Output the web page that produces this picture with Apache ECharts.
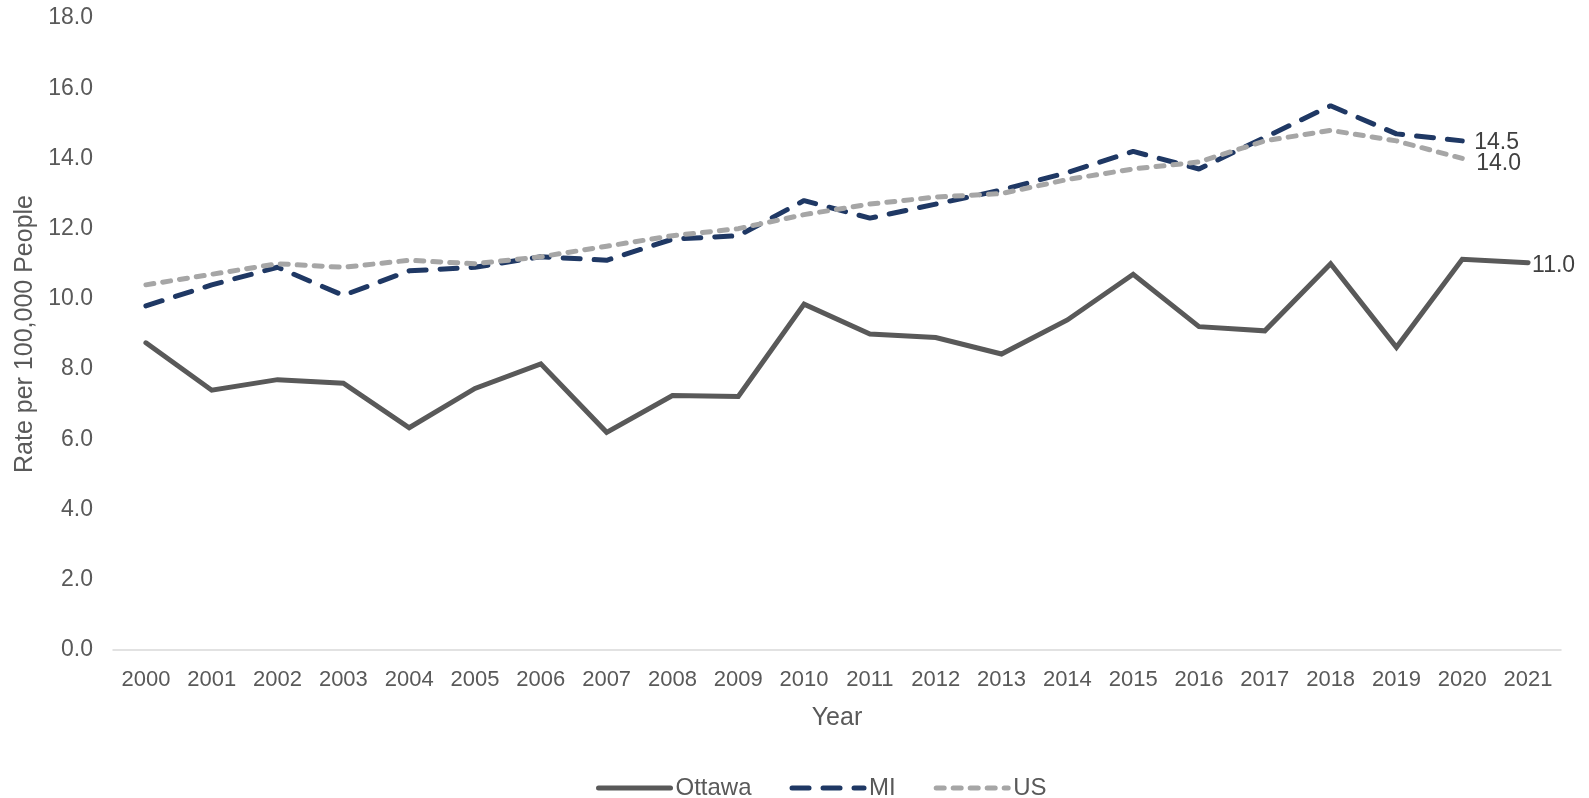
<!DOCTYPE html>
<html>
<head>
<meta charset="utf-8">
<script src="https://cdn.jsdelivr.net/npm/echarts@6/dist/echarts.min.js"></script>
<style>
  html, body { margin: 0; padding: 0; background: #fff; }
  #main { width: 1589px; height: 798px; }
</style>
</head>
<body>
<div id="main"></div>
<script>
var years = ['2000', '2001', '2002', '2003', '2004', '2005', '2006', '2007', '2008', '2009', '2010',
  '2011', '2012', '2013', '2014', '2015', '2016', '2017', '2018', '2019', '2020', '2021'];
var ottawa = [8.75, 7.4, 7.7, 7.6, 6.33, 7.45, 8.15, 6.2, 7.25, 7.22, 9.85,
  9.0, 8.9, 8.43, 9.4, 10.7, 9.21, 9.09, 11.0, 8.62, 11.13, 11.03];
// MI and US stop at 2020
var mi = [9.8, 10.4, 10.9, 10.1, 10.8, 10.9, 11.2, 11.1, 11.7, 11.8, 12.8,
  12.3, 12.7, 13.1, 13.6, 14.2, 13.7, 14.6, 15.5, 14.7, 14.5];
var us = [10.4, 10.7, 11.0, 10.9, 11.1, 11.0, 11.2, 11.5, 11.8, 12.0, 12.4,
  12.7, 12.9, 13.0, 13.4, 13.7, 13.9, 14.5, 14.8, 14.5, 14.0];

var txt = '#595959';
var font = 'Liberation Sans, Arial, sans-serif';

function fmt1(p) { return Number(p.value).toFixed(1); }

var myChart = echarts.init(document.getElementById('main'));
var options = {
  animation: false,
  textStyle: { fontFamily: font },
  grid: { left: 113, right: 28, top: 18, bottom: 148, containLabel: false },
  legend: {
    top: 771,
    left: 591,
    itemWidth: 72,
    itemHeight: 14,
    itemGap: 38,
    itemStyle: { opacity: 0 },
    lineStyle: { width: 5, cap: 'round' },
    textStyle: { color: txt, fontSize: 24, fontFamily: font },
    data: ['Ottawa', 'MI', 'US']
  },
  xAxis: {
    type: 'category',
    data: years,
    name: 'Year',
    nameLocation: 'middle',
    nameGap: 56,
    nameTextStyle: { color: txt, fontSize: 25 },
    axisLine: { lineStyle: { color: '#D9D9D9', width: 1.5 } },
    axisTick: { show: false },
    axisLabel: { color: txt, fontSize: 22, margin: 19, interval: 0 }
  },
  yAxis: {
    type: 'value',
    min: 0,
    max: 18,
    interval: 2,
    name: 'Rate per 100,000 People',
    nameLocation: 'middle',
    nameGap: 75,
    nameTextStyle: { color: txt, fontSize: 25 },
    axisLine: { show: false },
    axisTick: { show: false },
    splitLine: { show: false },
    axisLabel: {
      color: txt, fontSize: 23, margin: 20,
      formatter: function (v) { return v.toFixed(1); }
    }
  },
  series: [
    {
      name: 'Ottawa',
      type: 'line',
      data: ottawa,
      symbol: 'none',
      lineStyle: { color: '#595959', width: 5, cap: 'round', join: 'miter' },
      itemStyle: { color: '#595959' },
      endLabel: { show: true, distance: 4, offset: [0, 3], color: '#404040', fontSize: 23, formatter: fmt1 },
      z: 3
    },
    {
      name: 'MI',
      type: 'line',
      data: mi,
      symbol: 'none',
      lineStyle: { color: '#1F3864', width: 5, type: [17, 14], cap: 'round' },
      itemStyle: { color: '#1F3864' },
      endLabel: { show: true, distance: 12, offset: [0, 2], color: '#404040', fontSize: 23, formatter: fmt1 },
      z: 2
    },
    {
      name: 'US',
      type: 'line',
      data: us,
      symbol: 'none',
      lineStyle: { color: '#A6A6A6', width: 5, type: [8, 9], cap: 'round' },
      itemStyle: { color: '#A6A6A6' },
      endLabel: { show: true, distance: 14, offset: [0, 5], color: '#404040', fontSize: 23, formatter: fmt1 },
      z: 4
    }
  ]
};
myChart.setOption(options);
</script>
</body>
</html>
